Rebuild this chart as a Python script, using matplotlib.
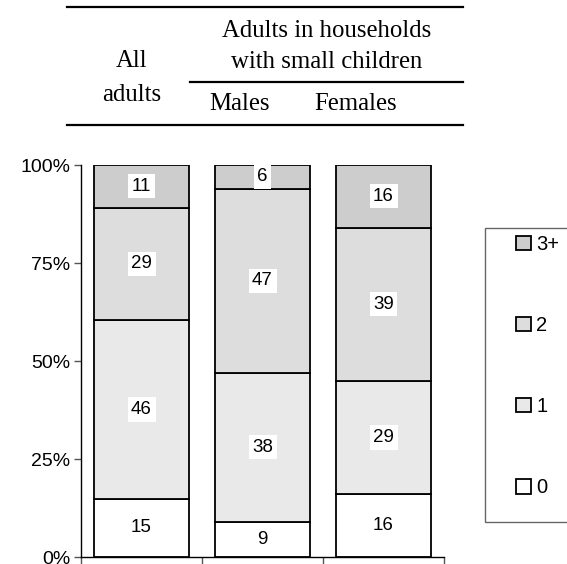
import numpy as np
import matplotlib
matplotlib.use('Agg')
import matplotlib.pyplot as plt
from matplotlib.lines import Line2D
from matplotlib.patches import Rectangle

# data (percent of adults by number of ... )
groups = ['All adults', 'Males', 'Females']
levels = ['0', '1', '2', '3+']
vals_0 = [15, 9, 16]
vals_1 = [46, 38, 29]
vals_2 = [29, 47, 39]
vals_3plus = [11, 6, 16]

colors = ['#ffffff', '#e9e9e9', '#dddddd', '#cdcdcd']

plt.rcParams['font.family'] = ['Liberation Sans', 'DejaVu Sans']

fig = plt.figure(figsize=(5.67, 5.64), dpi=100)
W, H = 567, 564
ax = fig.add_axes([81 / W, 1 - 557 / H, (444 - 81) / W, (557 - 165) / H])

table = np.array([vals_0, vals_1, vals_2, vals_3plus], dtype=float)
shares = table / table.sum(axis=0) * 100
x = np.arange(len(groups))
bottom = np.zeros(len(groups))
handles = []
for i, lev in enumerate(levels):
    bars = ax.bar(x, shares[i], width=0.78, bottom=bottom, color=colors[i],
                  edgecolor='black', linewidth=1.3, label=lev)
    handles.append(bars)
    for j in range(len(groups)):
        ax.text(x[j], bottom[j] + shares[i][j] / 2, str(int(table[i][j])),
                ha='center', va='center', fontsize=13.5,
                bbox=dict(facecolor='white', edgecolor='none', pad=2.5))
    bottom += shares[i]

ax.set_xlim(-0.5, 2.5)
ax.set_ylim(0, 100)
ax.set_yticks([0, 25, 50, 75, 100])
ax.set_yticklabels(['0%', '25%', '50%', '75%', '100%'], fontsize=14)
ax.set_xticks([-0.5, 0.5, 1.5, 2.5])
ax.set_xticklabels([])
ax.tick_params(axis='both', direction='out', length=5, color='#555555', width=1,
               pad=2.5)
ax.spines['top'].set_visible(False)
ax.spines['right'].set_visible(False)
ax.spines['left'].set_linewidth(1)
ax.spines['bottom'].set_linewidth(1)

# legend box
fig.patches.append(Rectangle((485 / W, 1 - 522 / H), 0.3, (522 - 228) / H,
                             transform=fig.transFigure, facecolor='white',
                             edgecolor='#666666', linewidth=1))
fig.legend(handles[::-1], levels[::-1], loc='upper left',
           bbox_to_anchor=(506 / W, 1 - 225 / H), frameon=False, fontsize=14.5,
           handlelength=0.75, handleheight=0.75, handletextpad=0.25,
           labelspacing=3.08, borderpad=0)

# header table
for y0, x0, x1 in [(7, 67, 463), (82, 190, 463), (125, 67, 463)]:
    fig.add_artist(Line2D([x0 / W, x1 / W], [1 - y0 / H, 1 - y0 / H],
                          color='black', linewidth=1.6))
serif = dict(family='Liberation Serif', fontsize=17.8, ha='center', va='center')
fig.text(132 / W, 1 - 61 / H, 'All', **serif)
fig.text(132 / W, 1 - 95 / H, 'adults', **serif)
fig.text(327 / W, 1 - 31 / H, 'Adults in households', **serif)
fig.text(327 / W, 1 - 62 / H, 'with small children', **serif)
fig.text(240 / W, 1 - 104 / H, 'Males', **serif)
fig.text(356 / W, 1 - 104 / H, 'Females', **serif)

fig.savefig('out.png', dpi=100)
